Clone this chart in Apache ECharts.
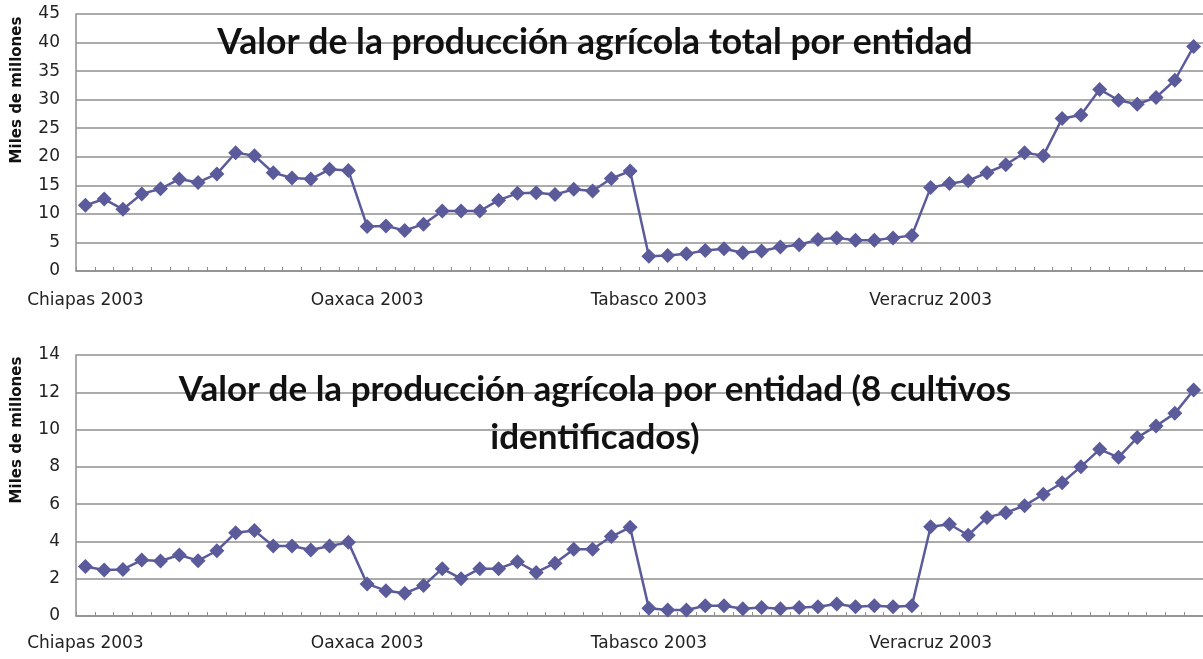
<!DOCTYPE html>
<html>
<head>
<meta charset="utf-8">
<script src="https://cdn.jsdelivr.net/npm/echarts@6/dist/echarts.min.js"></script>
<style>
  html, body { margin: 0; padding: 0; background: #fff; }
  #chart { width: 1203px; height: 659px; }
</style>
</head>
<body>
<div id="chart"></div>
<script>
// Entidades y años (15 años por entidad)
const states = ['Chiapas', 'Oaxaca', 'Tabasco', 'Veracruz'];
const years = [2003, 2004, 2005, 2006, 2007, 2008, 2009, 2010, 2011, 2012, 2013, 2014, 2015, 2016, 2017];
const categories = [];
states.forEach(s => years.forEach(y => categories.push(s + ' ' + y)));

// Valor de la producción agrícola total (miles de millones)
const totalValues = [
  11.5, 12.6, 10.8, 13.5, 14.4, 16.1, 15.5, 17.0, 20.7, 20.2, 17.2, 16.3, 16.1, 17.8, 17.6,
  7.8, 7.9, 7.1, 8.2, 10.5, 10.5, 10.5, 12.4, 13.6, 13.7, 13.4, 14.3, 14.0, 16.2, 17.5,
  2.6, 2.7, 3.0, 3.6, 3.9, 3.2, 3.5, 4.2, 4.6, 5.5, 5.8, 5.4, 5.4, 5.8, 6.2,
  14.6, 15.3, 15.8, 17.2, 18.6, 20.7, 20.2, 26.7, 27.3, 31.8, 29.9, 29.2, 30.4, 33.4, 39.3
];

// Valor de la producción de 8 cultivos identificados (miles de millones)
const cropValues = [
  2.65, 2.47, 2.50, 3.00, 2.95, 3.27, 2.97, 3.50, 4.47, 4.58, 3.75, 3.75, 3.54, 3.75, 3.95,
  1.72, 1.36, 1.22, 1.63, 2.54, 2.00, 2.54, 2.54, 2.91, 2.34, 2.83, 3.58, 3.58, 4.26, 4.76,
  0.41, 0.32, 0.32, 0.55, 0.55, 0.39, 0.46, 0.39, 0.46, 0.50, 0.64, 0.50, 0.55, 0.50, 0.55,
  4.79, 4.92, 4.33, 5.29, 5.54, 5.92, 6.53, 7.15, 8.01, 8.94, 8.51, 9.57, 10.19, 10.87, 12.12
];

const titleTop = 'Valor de la producción agrícola total por entidad';
const titleBottom = 'Valor de la producción agrícola por entidad (8 cultivos\nidentificados)';
const yName = 'Miles de millones';

const lineColor = '#5b5b9b';
const gridColor = '#8f8f8f';
const labelFont = 'DejaVu Sans';

function xAxis(gridIndex, margin) {
  return {
    type: 'category',
    gridIndex: gridIndex,
    data: categories,
    boundaryGap: true,
    axisLine: { lineStyle: { color: gridColor, width: 1.5 } },
    axisTick: { show: true, inside: true, length: 4, interval: 0, lineStyle: { color: gridColor } },
    axisLabel: {
      interval: 14, color: '#222', fontFamily: labelFont, fontSize: 17, margin: margin
    },
    splitLine: { show: false }
  };
}

function yAxis(gridIndex, max, interval) {
  return {
    type: 'value',
    gridIndex: gridIndex,
    min: 0, max: max, interval: interval,
    axisLine: { show: true, lineStyle: { color: gridColor, width: 1.5 } },
    axisTick: { show: false },
    axisLabel: { color: '#222', fontFamily: labelFont, fontSize: 17, margin: 16 },
    splitLine: { lineStyle: { color: gridColor, width: 1.5 } }
  };
}

function lineSeries(idx, data) {
  return {
    type: 'line',
    xAxisIndex: idx, yAxisIndex: idx,
    data: data,
    showAllSymbol: true,
    symbol: 'diamond', symbolSize: 15,
    lineStyle: { color: lineColor, width: 2.5 },
    itemStyle: { color: lineColor },
    silent: true,
    animation: false
  };
}

const chart = echarts.init(document.getElementById('chart'), null, { renderer: 'canvas' });
chart.setOption({
  animation: false,
  backgroundColor: '#fff',
  grid: [
    { left: 76, top: 14, width: 1130, height: 257 },
    { left: 76, top: 355, width: 1130, height: 261 }
  ],
  xAxis: [xAxis(0, 21), xAxis(1, 19)],
  yAxis: [yAxis(0, 45, 5), yAxis(1, 14, 2)],
  series: [lineSeries(0, totalValues), lineSeries(1, cropValues)],
  graphic: [
    {
      type: 'text', x: 595, y: 25, z: 100,
      style: {
        text: titleTop, align: 'center', verticalAlign: 'top',
        font: 'bold 35.5px Lato', fill: '#111'
      }
    },
    {
      type: 'text', x: 595, y: 366, z: 100,
      style: {
        text: titleBottom, align: 'center', verticalAlign: 'top', lineHeight: 48,
        font: 'bold 35px Lato', fill: '#111'
      }
    },
    {
      type: 'text', x: 17, y: 90, rotation: Math.PI / 2, z: 100,
      style: {
        text: yName, align: 'center', verticalAlign: 'middle',
        font: 'bold 15px "DejaVu Sans"', fill: '#111'
      }
    },
    {
      type: 'text', x: 17, y: 430, rotation: Math.PI / 2, z: 100,
      style: {
        text: yName, align: 'center', verticalAlign: 'middle',
        font: 'bold 15px "DejaVu Sans"', fill: '#111'
      }
    }
  ]
});
</script>
</body>
</html>
